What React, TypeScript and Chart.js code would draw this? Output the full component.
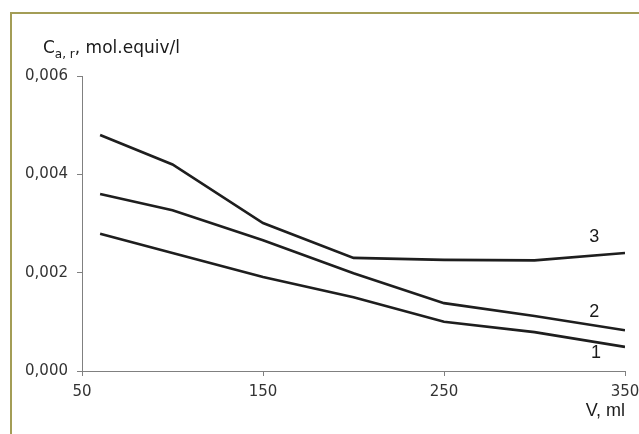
import React, { useEffect, useRef } from "react";
import { Chart, registerables } from "chart.js";

Chart.register(...registerables);

const volumes = [60, 100, 150, 200, 250, 300, 350];
const series1 = [0.00279, 0.0024, 0.00191, 0.0015, 0.001, 0.00079, 0.00049];
const series2 = [0.0036, 0.00327, 0.00266, 0.00199, 0.00138, 0.00112, 0.00083];
const series3 = [0.0048, 0.0042, 0.00301, 0.0023, 0.00226, 0.00225, 0.0024];
const xTicks = [50, 150, 250, 350];
const yTicks = [0, 0.002, 0.004, 0.006];
const curveLabels = ["1", "2", "3"];
const curveLabelX = [334, 333, 333];
const curveLabelY = [0.00037, 0.0012, 0.00272];

const FONT = "'Liberation Sans', Arial, sans-serif";
const TICKFONT = "'DejaVu Sans', sans-serif";

const labelsPlugin = {
  id: "labelsPlugin",
  afterDraw(chart: any) {
    const ctx = chart.ctx;
    const xs = chart.scales.x;
    const ys = chart.scales.y;
    const ca = chart.chartArea;
    ctx.save();
    ctx.fillStyle = "#1a1a1a";
    ctx.textAlign = "center";
    ctx.textBaseline = "middle";
    ctx.font = `18px ${FONT}`;
    curveLabels.forEach((t, i) => {
      ctx.fillText(t, xs.getPixelForValue(curveLabelX[i]), ys.getPixelForValue(curveLabelY[i]));
    });
    // y title
    ctx.textAlign = "left";
    ctx.textBaseline = "alphabetic";
    let x = ca.left - 39;
    const yb = ca.top - 23;
    ctx.font = `17px ${TICKFONT}`;
    ctx.fillText("C", x, yb);
    x += ctx.measureText("C").width;
    ctx.font = `12px ${TICKFONT}`;
    ctx.fillText("a, r", x, yb + 5);
    x += ctx.measureText("a, r").width;
    ctx.font = `17px ${TICKFONT}`;
    ctx.fillText(", mol.equiv/l", x, yb);
    // x title
    ctx.textAlign = "right";
    ctx.font = `18px ${FONT}`;
    ctx.fillText("V, ml", ca.right, ca.bottom + 45);
    ctx.restore();
  },
};

export default function App() {
  const ref = useRef<HTMLCanvasElement>(null);
  useEffect(() => {
    const mk = (data: number[]) => ({
      data: volumes.map((v, i) => ({ x: v, y: data[i] })),
      borderColor: "#1e1e1e",
      borderWidth: 2.6,
      pointRadius: 0,
      tension: 0,
      fill: false,
    });
    const chart = new Chart(ref.current!, {
      type: "line",
      data: { datasets: [mk(series1), mk(series2), mk(series3)] },
      options: {
        animation: false,
        responsive: false,
        maintainAspectRatio: false,
        layout: { padding: { left: 0, top: 76, right: 14, bottom: 0 } },
        plugins: { legend: { display: false }, tooltip: { enabled: false } },
        scales: {
          x: {
            type: "linear",
            min: 50,
            max: 350,
            afterBuildTicks: (s: any) => {
              s.ticks = xTicks.map((v) => ({ value: v }));
            },
            afterFit: (s: any) => {
              s.height = 63;
              s.paddingLeft = 0;
              s.paddingRight = 0;
            },
            grid: { drawOnChartArea: false, drawTicks: true, tickLength: 5, color: "#808080" },
            border: { display: true, color: "#808080", width: 1 },
            ticks: { color: "#333", font: { family: TICKFONT, size: 15 }, padding: 7, maxRotation: 0 },
          },
          y: {
            type: "linear",
            min: 0,
            max: 0.006,
            afterBuildTicks: (s: any) => {
              s.ticks = yTicks.map((v) => ({ value: v }));
            },
            afterFit: (s: any) => {
              s.width = 82;
              s.paddingTop = 0;
              s.paddingBottom = 0;
            },
            grid: { drawOnChartArea: false, drawTicks: true, tickLength: 5, color: "#808080" },
            border: { display: true, color: "#808080", width: 1 },
            ticks: {
              color: "#333",
              font: { family: TICKFONT, size: 15 },
              padding: 9,
              callback: (v: any) => Number(v).toFixed(3).replace(".", ","),
            },
          },
        },
      },
      plugins: [labelsPlugin],
    });
    return () => chart.destroy();
  }, []);
  return (
    <div style={{ position: "fixed", left: 0, top: 0, width: 639, height: 434, background: "#fff" }}>
      <div
        style={{
          position: "absolute",
          left: 10,
          top: 12,
          right: 0,
          bottom: 0,
          borderLeft: "2px solid #a39d56",
          borderTop: "2px solid #a39d56",
        }}
      />
      <canvas ref={ref} width={639} height={434} style={{ position: "absolute", left: 0, top: 0 }} />
    </div>
  );
}
